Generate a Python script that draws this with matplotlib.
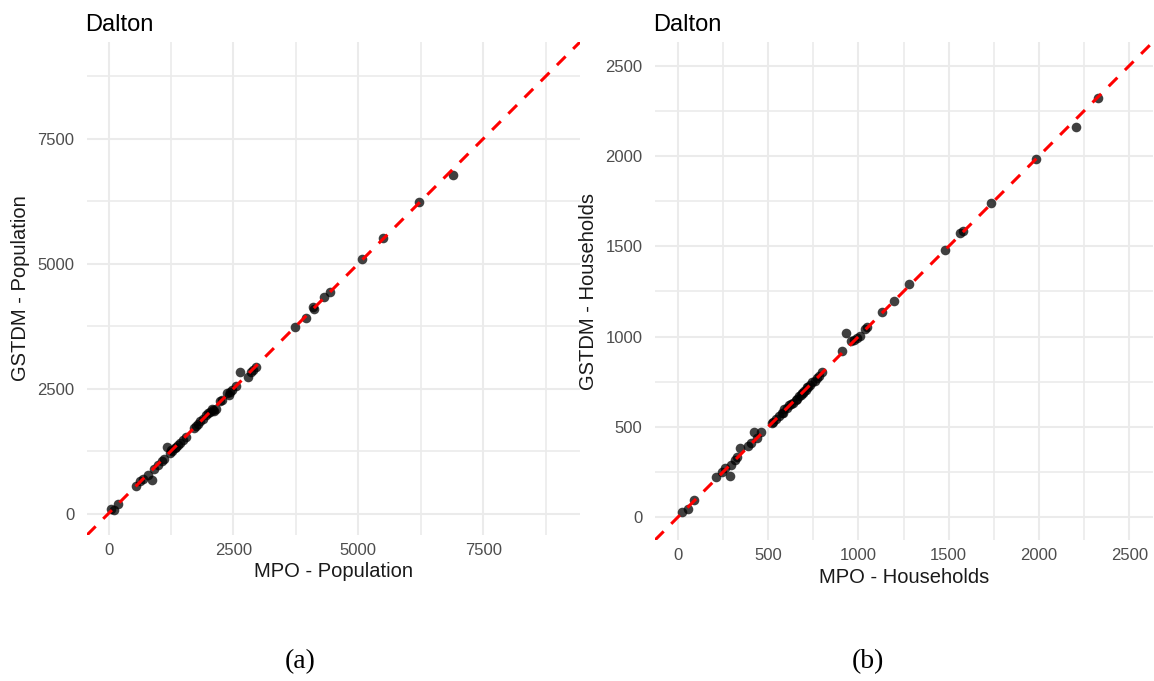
import matplotlib.pyplot as plt
import numpy as np

# values
mpo_pop = [60, 110, 200, 560, 640, 690, 790, 870, 920, 1000, 1080, 1120, 1180, 1230,
           1280, 1330, 1390, 1440, 1500, 1560, 1720, 1760, 1800, 1840, 1900, 1960,
           2030, 2080, 2120, 2160, 2240, 2280, 2380, 2440, 2480, 2560, 2640, 2790,
           2860, 2900, 2960, 3730, 3960, 4100, 4120, 4320, 4440, 5070, 5500, 6210, 6890,
           1250, 1350, 2000, 2100, 2420]
gstdm_pop = [100, 80, 190, 550, 650, 700, 780, 670, 900, 980, 1060, 1100, 1340, 1220,
             1260, 1310, 1380, 1420, 1480, 1540, 1710, 1750, 1790, 1850, 1900, 1980,
             2040, 2090, 2060, 2100, 2250, 2270, 2420, 2440, 2470, 2560, 2840, 2740,
             2840, 2880, 2930, 3730, 3910, 4130, 4090, 4340, 4430, 5090, 5520, 6230, 6770,
             1270, 1330, 2010, 2080, 2380]

mpo_hh = [25, 55, 90, 215, 245, 260, 290, 295, 320, 330, 345, 390, 405, 420, 440, 460,
          520, 530, 545, 560, 575, 590, 605, 625, 640, 655, 670, 680, 690, 700, 710,
          720, 730, 745, 770, 780, 800, 910, 930, 960, 975, 990, 1010, 1035, 1050,
          1130, 1200, 1280, 1480, 1565, 1580, 1735, 1985, 2205, 2325,
          585, 615, 660, 695, 715, 760]
gstdm_hh = [30, 45, 95, 225, 250, 275, 230, 290, 320, 335, 385, 395, 410, 470, 440, 470,
            520, 530, 545, 560, 575, 600, 605, 625, 635, 650, 670, 680, 690, 700, 705,
            720, 735, 750, 770, 785, 805, 920, 1020, 975, 980, 990, 1005, 1040, 1055,
            1135, 1195, 1290, 1480, 1575, 1585, 1740, 1985, 2160, 2320,
            580, 620, 655, 690, 720, 755]

plt.rcParams['font.family'] = ['Liberation Sans', 'DejaVu Sans']

GRID = '#EBEBEB'


def draw_panel(ax, x, y, xlabel, ylabel, lim, major, minor):
    ax.set_xlim(lim)
    ax.set_ylim(lim)
    ax.set_xticks(major)
    ax.set_yticks(major)
    ax.set_xticks(minor, minor=True)
    ax.set_yticks(minor, minor=True)
    ax.grid(which='major', color=GRID, lw=1.5)
    ax.grid(which='minor', color=GRID, lw=1.2)
    ax.set_axisbelow(True)
    for s in ax.spines.values():
        s.set_visible(False)
    ax.tick_params(which='both', length=0, labelsize=12, labelcolor='#4D4D4D')
    ax.tick_params(axis='y', pad=9)
    ax.tick_params(axis='x', pad=6)
    ax.scatter(x, y, s=48, color='black', alpha=0.75, lw=0, zorder=2)
    ax.axline((0, 0), slope=1, color='red', lw=2.2, ls=(0, (4, 3.5)), zorder=3)
    ax.set_xlabel(xlabel, fontsize=14.5, color='#1a1a1a', labelpad=3)
    ax.set_ylabel(ylabel, fontsize=14.5, color='#1a1a1a', labelpad=5)
    ax.set_title('Dalton', fontsize=17, loc='left', pad=8, x=-0.003)


fig = plt.figure(figsize=(11.54, 6.81), dpi=100)
ax1 = fig.add_axes([0.0754, 0.2144, 0.4272, 0.7239])
ax2 = fig.add_axes([0.5676, 0.2070, 0.4315, 0.7313])

draw_panel(ax1, mpo_pop, gstdm_pop, 'MPO - Population', 'GSTDM - Population',
           (-430, 9435), [0, 2500, 5000, 7500], [1250, 3750, 6250, 8750])
draw_panel(ax2, mpo_hh, gstdm_hh, 'MPO - Households', 'GSTDM - Households',
           (-125, 2630), [0, 500, 1000, 1500, 2000, 2500], [250, 750, 1250, 1750, 2250])

fig.text(300 / 1154, 1 - 662 / 681, '(a)', fontsize=20, family='Liberation Serif',
         ha='center', va='center')
fig.text(868 / 1154, 1 - 662 / 681, '(b)', fontsize=20, family='Liberation Serif',
         ha='center', va='center')

fig.savefig('out.png', dpi=100)
